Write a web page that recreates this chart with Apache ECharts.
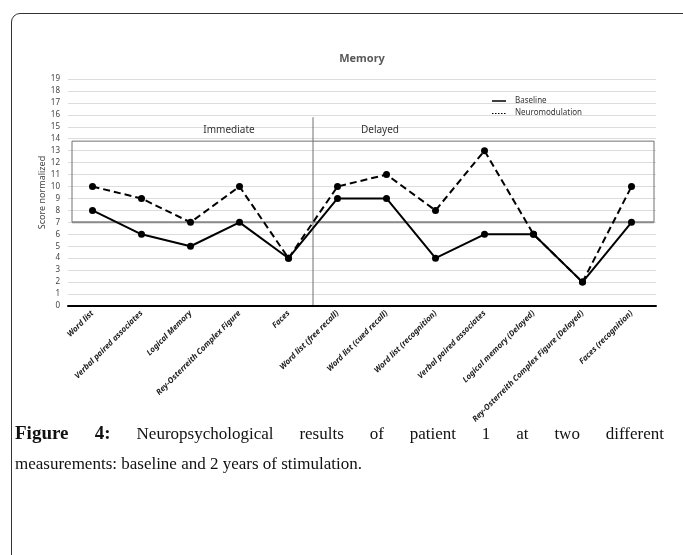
<!DOCTYPE html>
<html>
<head>
<meta charset="utf-8">
<script src="https://cdn.jsdelivr.net/npm/echarts@6/dist/echarts.min.js"></script>
<style>
  html, body { margin: 0; padding: 0; background: #fff; }
  #frame {
    position: absolute; left: 11px; top: 13px; width: 700px; height: 600px;
    border: 1.5px solid #333; border-radius: 9px; box-sizing: border-box;
  }
  #chart { position: absolute; left: 0; top: 0; width: 683px; height: 555px; }
  #caption {
    position: absolute; left: 15px; top: 418px; width: 649px;
    font-family: "Liberation Serif", serif; font-size: 17px; line-height: 30px;
    color: #111;
  }
  #caption .l1 { display: block; text-align: justify; text-align-last: justify; }
  #caption b { font-size: 19px; }
</style>
</head>
<body>
<div id="frame"></div>
<div id="chart"></div>
<div id="caption"><span class="l1"><b>Figure 4:</b> Neuropsychological results of patient 1 at two different</span>measurements: baseline and 2 years of stimulation.</div>
<script>
var categories = [
    "Word list", "Verbal paired associates", "Logical Memory", "Rey-Osterreith Complex Figure", "Faces",
    "Word list (free recall)", "Word list (cued recall)", "Word list (recognition)", "Verbal paired associates",
    "Logical memory (Delayed)", "Rey-Osterreith Complex Figure (Delayed)", "Faces (recognition)"
];
var baseline = [8, 6, 5, 7, 4, 9, 9, 4, 6, 6, 2, 7];
var neuromodulation = [10, 9, 7, 10, 4, 10, 11, 8, 13, 6, 2, 10];
var boxRange = [7, 13.8]; // normal range box
var dividerTop = 15.8;

var font = "Noto Sans";
var myChart = echarts.init(document.getElementById("chart"));

var option = {
    animation: false,
    title: {
        text: "Memory",
        left: 357, top: 48, textAlign: "center",
        textStyle: { fontFamily: font, fontSize: 11, fontWeight: "bold", color: "#595959" }
    },
    grid: { left: 68, right: 27, top: 79, bottom: 249 },
    xAxis: {
        type: "category",
        data: categories,
        boundaryGap: true,
        axisLine: { lineStyle: { color: "#000", width: 2 } },
        axisTick: { show: false },
        axisLabel: {
            rotate: 45, interval: 0, margin: 6,
            fontFamily: font, fontSize: 8, fontStyle: "italic", fontWeight: "bold", color: "#222"
        },
        z: 5
    },
    yAxis: {
        type: "value",
        min: 0, max: 19, interval: 1,
        name: "Score normalized",
        nameLocation: "middle",
        nameGap: 21,
        nameMoveOverlap: false,
        nameTextStyle: { fontFamily: font, fontSize: 9, color: "#444" },
        axisLine: { show: false },
        axisTick: { show: false },
        axisLabel: { fontFamily: font, fontSize: 8, color: "#444", margin: 8 },
        splitLine: { lineStyle: { color: "#dcdcdc", width: 1 } }
    },
    series: [
        {
            name: "Baseline",
            type: "line",
            data: baseline,
            symbol: "circle", symbolSize: 7,
            lineStyle: { color: "#000", width: 2 },
            itemStyle: { color: "#000" },
            z: 4
        },
        {
            name: "Neuromodulation",
            type: "line",
            data: neuromodulation,
            symbol: "circle", symbolSize: 7,
            lineStyle: { color: "#000", width: 2, type: [7, 4] },
            itemStyle: { color: "#000" },
            z: 3
        }
    ]
};
myChart.setOption(option);

// annotations positioned from the axes
var yLow = myChart.convertToPixel({ yAxisIndex: 0 }, boxRange[0]);
var yHigh = myChart.convertToPixel({ yAxisIndex: 0 }, boxRange[1]);
var yZero = myChart.convertToPixel({ yAxisIndex: 0 }, 0);
var yDiv = myChart.convertToPixel({ yAxisIndex: 0 }, dividerTop);
var xFirst = myChart.convertToPixel({ xAxisIndex: 0 }, 0);
var x4 = myChart.convertToPixel({ xAxisIndex: 0 }, 4);
var x5 = myChart.convertToPixel({ xAxisIndex: 0 }, 5);
var xLast = myChart.convertToPixel({ xAxisIndex: 0 }, 11);
var step = x5 - x4;
var boxLeft = xFirst - step / 2 + 4;
var boxRight = xLast + step / 2 - 2;
var xDiv = (x4 + x5) / 2;

myChart.setOption({
    graphic: [
        {
            type: "rect", z: 1,
            shape: { x: boxLeft, y: yHigh, width: boxRight - boxLeft, height: yLow - yHigh },
            style: { fill: "none", stroke: "#707070", lineWidth: 1 }
        },
        {
            type: "line", z: 1,
            shape: { x1: boxLeft, y1: yLow, x2: boxRight, y2: yLow },
            style: { stroke: "#8a8a8a", lineWidth: 2 }
        },
        {
            type: "line", z: 1,
            shape: { x1: xDiv, y1: yDiv, x2: xDiv, y2: yZero },
            style: { stroke: "#707070", lineWidth: 1 }
        },
        {
            type: "text", x: 229, y: 130,
            style: { text: "Immediate", fontFamily: font, fontSize: 10, fill: "#333", align: "center", verticalAlign: "middle" }
        },
        {
            type: "text", x: 380, y: 130,
            style: { text: "Delayed", fontFamily: font, fontSize: 10, fill: "#333", align: "center", verticalAlign: "middle" }
        },
        {
            type: "line",
            shape: { x1: 492, y1: 101, x2: 506, y2: 101 },
            style: { stroke: "#000", lineWidth: 1.5 }
        },
        {
            type: "line",
            shape: { x1: 492, y1: 113.5, x2: 506, y2: 113.5 },
            style: { stroke: "#000", lineWidth: 1.2, lineDash: [1.5, 1.5] }
        },
        {
            type: "text", x: 515, y: 101,
            style: { text: "Baseline", fontFamily: font, fontSize: 8, fill: "#333", verticalAlign: "middle" }
        },
        {
            type: "text", x: 515, y: 113,
            style: { text: "Neuromodulation", fontFamily: font, fontSize: 8, fill: "#333", verticalAlign: "middle" }
        }
    ]
});
</script>
</body>
</html>
